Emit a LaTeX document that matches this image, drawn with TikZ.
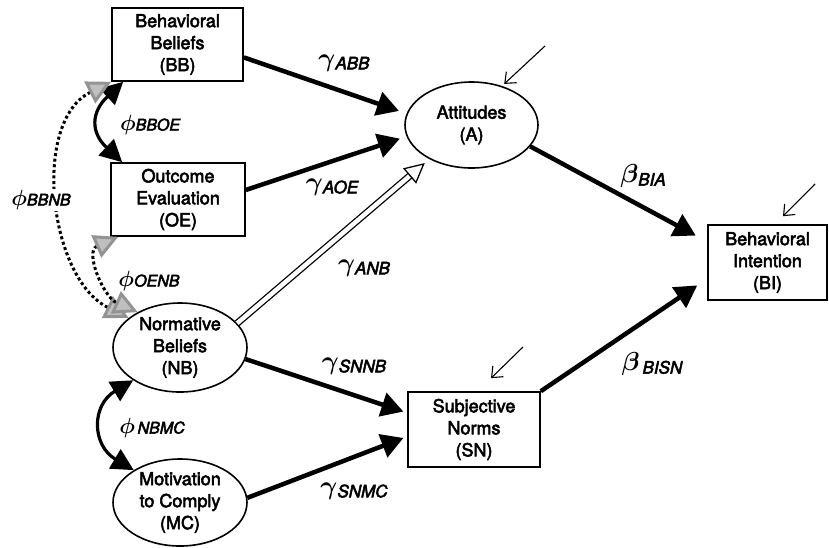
\documentclass[tikz,border=0pt]{standalone}
\usepackage{fix-cm}
\usepackage{fontspec}
\setmainfont{texgyreheros}[Extension=.otf, UprightFont=*-regular, ItalicFont=*-italic, BoldFont=*-regular, BoldItalicFont=*-italic, BoldFeatures={FakeBold=3}, BoldItalicFeatures={FakeBold=3}]
\usetikzlibrary{arrows.meta,shapes.geometric,calc}
\newcommand\glab[2]{{\fontsize{26}{26}\selectfont\boldmath$#1$}\raisebox{-3pt}{\fontsize{17}{17}\selectfont\bfseries\itshape #2}}
\newcommand\plab[2]{{\fontsize{22}{22}\selectfont\boldmath$#1$}{\fontsize{16}{16}\selectfont\bfseries\itshape #2}}
\begin{document}
\begin{tikzpicture}[x=1pt,y=-1pt,
  txt/.style={font=\fontsize{18}{22}\selectfont\bfseries, align=center},
  boxn/.style={draw, line width=1.6pt, inner sep=0pt, txt},
  elln/.style={draw, ellipse, line width=1.6pt, inner sep=0pt},
  patharrow/.style={line width=4.5pt, -{Triangle[length=22pt,width=24pt]}},
  errarrow/.style={line width=1.1pt, -{Straight Barb[length=9pt,width=15pt,line width=1.1pt]}},
  covar/.style={line width=3.2pt, {Triangle[length=22pt,width=22pt]}-{Triangle[length=22pt,width=22pt]}},
  grayhead/.tip={Triangle[length=24pt,width=24pt,fill=gray!50,color=gray!85]},
  dotcov/.style={line width=3pt, dash pattern=on 3pt off 2.6pt, {grayhead}-{grayhead}},
  lab/.style={inner sep=1pt}
]
\useasboundingbox (0,0) rectangle (829,547);

% nodes
\node[boxn, minimum width=131pt, minimum height=73pt] (bb) at (177.5,44.5) {Behavioral\\Beliefs\\(BB)};
\node[boxn, minimum width=134pt, minimum height=73pt] (oe) at (178,199.5) {Outcome\\Evaluation\\(OE)};
\node[elln, minimum width=134pt, minimum height=89pt, label={[txt]center:Normative\\Beliefs\\(NB)}] (nb) at (180,347.5) {};
\node[elln, minimum width=134pt, minimum height=87pt, label={[txt]center:Motivation\\to Comply\\(MC)}] (mc) at (180,502.5) {};
\node[elln, minimum width=133pt, minimum height=86pt, label={[txt]center:Attitudes\\(A)}] (a) at (471.5,125) {};
\node[boxn, minimum width=132pt, minimum height=75pt] (sn) at (474,429.5) {Subjective\\Norms\\(SN)};
\node[boxn, minimum width=119pt, minimum height=75pt] (bi) at (767.5,262.5) {Behavioral\\Intention\\(BI)};

% path arrows
\draw[patharrow, shorten >=8pt] (bb.-11) -- (a.170);
\draw[patharrow, shorten >=7pt] (oe.8) -- (a.190.5);
\draw[patharrow, shorten >=13pt] (a.-20.6) -- (bi.161.3);
\draw[patharrow, shorten >=12pt] (sn.north east) -- (bi.195.8);
\draw[patharrow, shorten >=4pt] (nb.-10.6) -- (sn.166.7);
\draw[patharrow, shorten >=4pt] (mc.4) -- (sn.186);

% hollow double arrow NB -> A
\draw[line width=1.3pt, double distance=4.5pt] (nb.23) -- ($(a.219)!25pt!(nb.23)$);
\draw[line width=1.3pt, -{Triangle[open,length=20pt,width=20pt]}] ($(a.219)!26pt!(nb.23)$) -- ($(a.219)!6pt!(nb.23)$);

% error arrows
\coordinate (ea) at (545,46);
\coordinate (eb) at (815,184);
\coordinate (es) at (523,347);
\draw[errarrow, shorten >=3pt] (ea) -- (a.52);
\draw[errarrow] (eb) -- ([xshift=15.5pt,yshift=8pt]bi.north);
\draw[errarrow] (es) -- ([xshift=17pt,yshift=13pt]sn.north);

% covariances
\draw[covar] ([xshift=12pt]bb.south west) .. controls +(-32,30) and +(-32,-30) .. ([xshift=12pt]oe.north west);
\draw[covar] (nb.215) .. controls +(-42,25) and +(-42,-25) .. (mc.145);
\draw[dotcov] (bb.south west) .. controls +(-80,40) and +(-80,-40) .. (nb.150);
\draw[dotcov] ([xshift=8pt]oe.south west) .. controls +(-34,15) and +(-34,-15) .. (nb.140);

% labels
\node[lab] (lbboe) at (150,125) {\plab{\phi}{BBOE}};
\node[lab, fill=white] (lbbnb) at (41,200) {\plab{\phi}{BBNB}};
\node[lab] (loenb) at (149,281) {\plab{\phi}{OENB}};
\node[lab] (lnbmc) at (152,428) {\plab{\phi}{\,NBMC}};
\node[lab] (labb) at (344,63) {\glab{\gamma}{ABB}};
\node[lab] (laoe) at (332,187) {\glab{\gamma}{AOE}};
\node[lab] (lanb) at (364,268) {\glab{\gamma}{ANB}};
\node[lab] (lbia) at (643,176) {\glab{\beta}{BIA}};
\node[lab] (lsnnb) at (354,366) {\glab{\gamma}{SNNB}};
\node[lab] (lsnmc) at (354,491) {\glab{\gamma}{SNMC}};
\node[lab] (lbisn) at (652,364) {\glab{\beta}{\,BISN}};
\end{tikzpicture}
\end{document}
